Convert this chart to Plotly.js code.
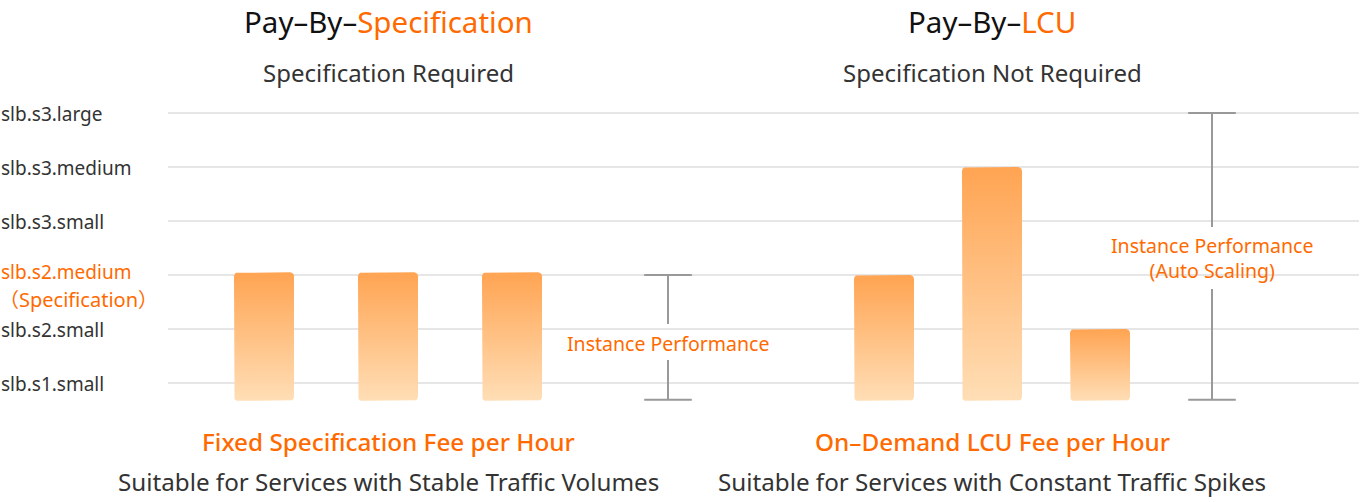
<!DOCTYPE html>
<html>
<head>
<meta charset="utf-8">
<script src="https://cdn.plot.ly/plotly-3.0.1.min.js"></script>
<style>html,body{margin:0;padding:0;background:#fff;}#chart{width:1362px;height:502px;}</style>
</head>
<body>
<div id="chart"></div>
<script>
// ---- data ----
const yLevels = ['slb.s1.small', 'slb.s2.small', 'slb.s2.medium', 'slb.s3.small', 'slb.s3.medium', 'slb.s3.large'];
const specLevelLabel = 'slb.s2.medium';
const specLevelNote = '（Specification）';
const specBars = [3.05, 3.05, 3.05];
const lcuBars = [3.0, 5.0, 2.0];
const barBase = 0.67;
const specPerfRange = [0.69, 3.0];
const lcuPerfRange = [0.69, 6.0];
const groupTitles = ['Pay–By–', 'Pay–By–'];
const groupTitleHighlights = ['Specification', 'LCU'];
const groupSubtitles = ['Specification Required', 'Specification Not Required'];
const groupFees = ['Fixed Specification Fee per Hour', 'On–Demand LCU Fee per Hour'];
const groupSuitable = ['Suitable for Services with Stable Traffic Volumes', 'Suitable for Services with Constant Traffic Spikes'];
const perfLabels = ['Instance Performance', 'Instance Performance<br>(Auto Scaling)'];

// ---- styles / layout constants ----
const ORANGE = '#FF6A00';
const DARK = '#333333';
const GRAY = '#999999';
const FONT = 'Noto Sans, Noto Sans CJK SC, sans-serif';
const W = 1362, H = 502, ML = 168, MR = 3, MT = 86, MB = 83;
const plotW = W - ML - MR, plotH = H - MT - MB;
const split = (776 - ML) / plotW;
const yRange = [6.5 - plotH / 54, 6.5];
const pxPerY = 54;
// left subplot: 124 px per slot, right: 108 px per slot
const leftRange = [(168 - 264) / 124, (776 - 264) / 124];
const rightRange = [(776 - 884) / 108, (1359 - 884) / 108];
const pxPerXL = 124, pxPerXR = 108;
const leftPerfX = (668 - 264) / 124;
const rightPerfX = (1212 - 884) / 108;

function roundedRect(xc, wPx, y0, y1, pxX, r) {
  const hw = wPx / 2 / pxX, rx = r / pxX, ry = r / pxPerY;
  const xs = [], ys = [];
  const corners = [
    [xc + hw - rx, y1 - ry, 0, 90],
    [xc - hw + rx, y1 - ry, 90, 180],
    [xc - hw + rx, y0 + ry, 180, 270],
    [xc + hw - rx, y0 + ry, 270, 360]
  ];
  corners.forEach(([cx, cy, a0, a1]) => {
    for (let a = a0; a <= a1; a += 15) {
      const t = a * Math.PI / 180;
      xs.push(cx + rx * Math.cos(t));
      ys.push(cy + ry * Math.sin(t));
    }
  });
  xs.push(xs[0]); ys.push(ys[0]);
  return {xs, ys};
}

const traces = [];
function addBars(values, xaxis, pxX) {
  values.forEach((v, i) => {
    const rr = roundedRect(i, 60, barBase, v, pxX, 4);
    traces.push({
      type: 'scatter', mode: 'lines', x: rr.xs, y: rr.ys, xaxis: xaxis, yaxis: 'y',
      fill: 'toself', line: {width: 0, color: 'rgba(0,0,0,0)'},
      fillgradient: {type: 'vertical', start: barBase, stop: v,
        colorscale: [[0, '#FFDEB6'], [1, '#FFA452']]},
      hoverinfo: 'skip', showlegend: false
    });
  });
}
addBars(specBars, 'x', pxPerXL);
addBars(lcuBars, 'x2', pxPerXR);

function addPerf(range, xaxis, xc, gapLo, gapHi) {
  traces.push({
    type: 'scatter', mode: 'lines', xaxis: xaxis, yaxis: 'y',
    x: [xc, xc, null, xc, xc], y: [range[1], gapHi, null, gapLo, range[0]],
    line: {color: GRAY, width: 2}, hoverinfo: 'skip', showlegend: false
  });
  traces.push({
    type: 'scatter', mode: 'markers', xaxis: xaxis, yaxis: 'y',
    x: [xc, xc], y: [range[0], range[1]],
    marker: {symbol: 'line-ew', size: 34, line: {color: GRAY, width: 2}},
    hoverinfo: 'skip', showlegend: false
  });
}
addPerf(specPerfRange, 'x', leftPerfX, 1 + (383 - 360) / 54, 1 + (383 - 324) / 54);
addPerf(lcuPerfRange, 'x2', rightPerfX, 1 + (383 - 289) / 54, 1 + (383 - 227) / 54);

const pyPaper = p => (MT + plotH - p) / plotH;
const annotations = [];
// y level labels
yLevels.forEach((lab, i) => {
  const isSpec = lab === specLevelLabel;
  annotations.push({
    xref: 'paper', yref: 'y', x: 0, xshift: -ML - 1, y: i + 1, yshift: isSpec ? 3 : -1,
    xanchor: 'left', yanchor: 'middle', showarrow: false, text: lab,
    font: {family: FONT, size: 19, color: isSpec ? ORANGE : DARK}
  });
});
annotations.push({
  xref: 'paper', yref: 'y', x: 0, xshift: -ML - 3, y: yLevels.indexOf(specLevelLabel) + 1, yshift: -24,
  xanchor: 'left', yanchor: 'middle', showarrow: false, text: specLevelNote,
  font: {family: FONT, size: 20, color: ORANGE}
});
['x', 'x2'].forEach((xr, g) => {
  annotations.push({xref: xr, yref: 'paper', x: 1, y: pyPaper(22), xanchor: 'center', yanchor: 'middle', showarrow: false,
    text: groupTitles[g] + '<span style="color:' + ORANGE + '">' + groupTitleHighlights[g] + '</span>',
    font: {family: FONT, size: 29.5, color: '#111111'}});
  annotations.push({xref: xr, yref: 'paper', x: 1, y: pyPaper(72), xanchor: 'center', yanchor: 'middle', showarrow: false,
    text: groupSubtitles[g], font: {family: FONT, size: 24, color: DARK}});
  annotations.push({xref: xr, yref: 'paper', x: 1, y: pyPaper(441), xanchor: 'center', yanchor: 'middle', showarrow: false,
    text: groupFees[g], font: {family: FONT, size: 24.3, color: ORANGE, weight: 500}});
  annotations.push({xref: xr, yref: 'paper', x: 1, y: pyPaper(481), xanchor: 'center', yanchor: 'middle', showarrow: false,
    text: groupSuitable[g], font: {family: FONT, size: 24.2, color: DARK}});
});
annotations.push({xref: 'x', yref: 'y', x: leftPerfX, y: 1 + (383 - 343) / 54, xanchor: 'center', yanchor: 'middle',
  showarrow: false, text: perfLabels[0], font: {family: FONT, size: 19.5, color: ORANGE}});
annotations.push({xref: 'x2', yref: 'y', x: rightPerfX, y: 1 + (383 - 257.5) / 54, xanchor: 'center', yanchor: 'middle',
  showarrow: false, text: perfLabels[1], font: {family: FONT, size: 19.5, color: ORANGE}});

const axisOff = {showgrid: false, zeroline: false, showticklabels: false, showline: false, ticks: ''};
const layout = {
  width: W, height: H,
  margin: {l: ML, r: MR, t: MT, b: MB},
  paper_bgcolor: '#ffffff', plot_bgcolor: '#ffffff',
  showlegend: false,
  xaxis: Object.assign({domain: [0, split], range: leftRange, anchor: 'y'}, axisOff),
  xaxis2: Object.assign({domain: [split, 1], range: rightRange, anchor: 'y'}, axisOff),
  yaxis: {range: yRange, tickmode: 'array', tickvals: yLevels.map((_, i) => i + 1), showticklabels: false,
    showgrid: true, gridcolor: '#E6E6E6', gridwidth: 2, zeroline: false, showline: false, ticks: ''},
  annotations: annotations
};
Plotly.newPlot('chart', traces, layout, {displayModeBar: false, staticPlot: true});
</script>
</body>
</html>
